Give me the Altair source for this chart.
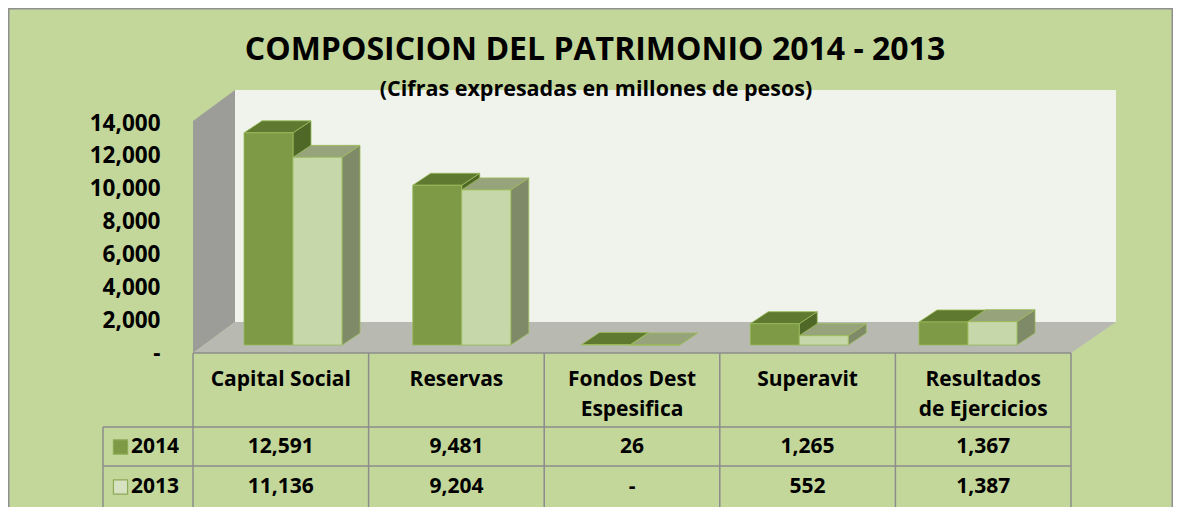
import altair as alt
import pandas as pd

# ---------------- data ----------------
categories = ["Capital Social", "Reservas", "Fondos Dest Espesifica", "Superavit", "Resultados de Ejercicios"]
header_line1 = ["Capital Social", "Reservas", "Fondos Dest", "Superavit", "Resultados"]
header_line2 = ["", "", "Espesifica", "", "de Ejercicios"]
series = ["2014", "2013"]
values_2014 = [12591, 9481, 26, 1265, 1367]
values_2013 = [11136, 9204, 0, 552, 1387]
axis_ticks = [0, 2000, 4000, 6000, 8000, 10000, 12000, 14000]
TITLE = "COMPOSICION DEL PATRIMONIO 2014 - 2013"
SUBTITLE = "(Cifras expresadas en millones de pesos)"

# ---------------- layout / style ----------------
PAGE_M = 8
CANVAS_R, CANVAS_B = 1173, 507
PLOT_L, PLOT_T, PLOT_R, PLOT_B = 193, 90, 1116, 353
W, H = PLOT_R - PLOT_L, PLOT_B - PLOT_T
COL_PX = 175.6            # table column width = one x unit
ZERO_PX = 345             # bar baseline (front plane)
PX_PER_VAL = 0.01685      # bar scale
AXIS_PX_PER_VAL = 0.01642 # value-axis scale (front edge of the wall)
BAR_W, DDX, DDY = 49, 18, 12

FONT = "Open Sans"
BG = "#C4D79B"
WALL_BACK = "#F0F3EC"
WALL_LEFT = "#9C9D98"
FLOOR = "#B8BAB2"
GRID = "#8C8C8C"
OUTLINE = "#9BBB59"
COLORS = {
    "2014": dict(front="#7E9A47", top="#5F7A30", side="#4F6727", legend="#7E9A47"),
    "2013": dict(front="#C6D7AA", top="#97A37B", side="#7E8A68", legend="#D6E2C2"),
}


def ux(px):
    return (px - PLOT_L) / COL_PX


def uy(py):
    return (ZERO_PX - py) / PX_PER_VAL


XMAX = ux(PLOT_R)
YMIN, YMAX = uy(PLOT_B), uy(PLOT_T)
xs = alt.Scale(domain=[0, XMAX], nice=False, zero=False)
ys = alt.Scale(domain=[YMIN, YMAX], nice=False, zero=False)


def bar_center_px(i):
    return 293 + 168.75 * i


# ---------------- build tables ----------------
front_rows, side_rows, top_rows = [], [], []
dx_u = DDX / COL_PX
dy_v = DDY / PX_PER_VAL
for s, (yr, vals) in enumerate(zip(series, [values_2014, values_2013])):
    for i, v in enumerate(vals):
        left = bar_center_px(i) - BAR_W + s * BAR_W
        xl, xr = ux(left), ux(left + BAR_W)
        bid = f"{yr}-{i}"
        front_rows.append(dict(series=yr, bar=bid, xl=xl, xr=xr, v=v, base=0))
        side_rows += [dict(series=yr, bar=bid, x=xr, top=v, bot=0),
                      dict(series=yr, bar=bid, x=xr + dx_u, top=v + dy_v, bot=dy_v)]
        top_rows += [dict(series=yr, bar=bid, y=v, xa=xl, xb=xr),
                     dict(series=yr, bar=bid, y=v + dy_v, xa=xl + dx_u, xb=xr + dx_u)]
df_front = pd.DataFrame(front_rows)
df_side = pd.DataFrame(side_rows)
df_top = pd.DataFrame(top_rows)


def fmt(v):
    return f"{v:,}" if v else "-"


df_table = pd.DataFrame({
    "cx": [i + 0.5 for i in range(len(categories))],
    "h1": header_line1,
    "h2": header_line2,
    "t2014": [fmt(v) for v in values_2014],
    "t2013": [fmt(v) for v in values_2013],
})
df_edges = pd.DataFrame({"e": list(range(len(categories) + 1))})
one = pd.DataFrame({"a": [0]})

df_left_wall = pd.DataFrame([
    dict(x=ux(PLOT_L), top=uy(121), bot=uy(PLOT_B)),
    dict(x=ux(235), top=uy(PLOT_T), bot=uy(322)),
])
df_floor = pd.DataFrame([
    dict(y=uy(PLOT_B), xa=ux(PLOT_L), xb=ux(1071)),
    dict(y=uy(322), xa=ux(235), xb=ux(PLOT_R)),
])

X = lambda f: alt.X(f, scale=xs, axis=None)
Y = lambda f: alt.Y(f, scale=ys, axis=None)
rel_y = lambda py: py - PLOT_T
rel_x = lambda px: px - PLOT_L

layers = []

# walls and floor
layers.append(alt.Chart(one).mark_rect(fill=WALL_BACK).encode(
    x=alt.value(rel_x(235)), x2=alt.value(W), y=alt.value(0), y2=alt.value(rel_y(322))))
layers.append(alt.Chart(df_left_wall).mark_area(orient="vertical", fill=WALL_LEFT).encode(
    x=X("x:Q"), y=Y("top:Q"), y2="bot:Q"))
layers.append(alt.Chart(df_floor).mark_area(orient="horizontal", fill=FLOOR).encode(
    y=Y("y:Q"), x=X("xa:Q"), x2="xb:Q"))

# 3-D bars
for yr in series:
    c = COLORS[yr]
    layers.append(alt.Chart(df_side[df_side.series == yr]).mark_area(
        orient="vertical", fill=c["side"], stroke=OUTLINE, strokeWidth=0.8).encode(
        x=X("x:Q"), y=Y("top:Q"), y2="bot:Q", detail="bar:N"))
    layers.append(alt.Chart(df_top[df_top.series == yr]).mark_area(
        orient="horizontal", fill=c["top"], stroke=OUTLINE, strokeWidth=0.8).encode(
        y=Y("y:Q"), x=X("xa:Q"), x2="xb:Q", detail="bar:N"))
    layers.append(alt.Chart(df_front[df_front.series == yr]).mark_rect(
        fill=c["front"], stroke=OUTLINE, strokeWidth=0.8).encode(
        x=X("xl:Q"), x2="xr:Q", y=Y("v:Q"), y2="base:Q"))

# value axis (front plane scale)
layers.append(alt.Chart(pd.DataFrame({"tick": axis_ticks})).mark_point(opacity=0).encode(
    y=alt.Y("tick:Q",
            scale=alt.Scale(domain=[0, H / AXIS_PX_PER_VAL], nice=False, zero=False),
            axis=alt.Axis(orient="left", values=axis_ticks,
                          labelExpr="datum.value == 0 ? '-' : format(datum.value, ',')",
                          domain=False, ticks=False, grid=False, labelPadding=33,
                          labelFont=FONT, labelFontWeight="bold", labelFontSize=22.5,
                          labelColor="#000000", labelFlush=False, labelOverlap=False,
                          title=None))))

# data table grid
TB_TOP, TB_R1, TB_R2, TB_BOT = PLOT_B, 427, 466, CANVAS_B + 5
LEG_L = 103
layers.append(alt.Chart(df_edges).mark_rule(color=GRID, strokeWidth=1.5).encode(
    x=X("e:Q"), y=alt.value(rel_y(TB_TOP)), y2=alt.value(rel_y(TB_BOT))))
layers.append(alt.Chart(one).mark_rule(color=GRID, strokeWidth=1.5).encode(
    x=alt.value(rel_x(LEG_L)), y=alt.value(rel_y(TB_R1)), y2=alt.value(rel_y(TB_BOT))))
for yy, x0 in [(TB_TOP, PLOT_L), (TB_R1, LEG_L), (TB_R2, LEG_L)]:
    layers.append(alt.Chart(one).mark_rule(color=GRID, strokeWidth=1.5).encode(
        x=alt.value(rel_x(x0)), x2=alt.value(rel_x(1071)), y=alt.value(rel_y(yy))))

txt = dict(font=FONT, fontWeight="bold", fontSize=21, color="#000000", baseline="middle")
layers.append(alt.Chart(df_table).mark_text(**txt).encode(
    x=X("cx:Q"), y=alt.value(rel_y(380)), text="h1:N"))
layers.append(alt.Chart(df_table).mark_text(**txt).encode(
    x=X("cx:Q"), y=alt.value(rel_y(410)), text="h2:N"))
layers.append(alt.Chart(df_table).mark_text(**txt).encode(
    x=X("cx:Q"), y=alt.value(rel_y(447)), text="t2014:N"))
layers.append(alt.Chart(df_table).mark_text(**txt).encode(
    x=X("cx:Q"), y=alt.value(rel_y(487)), text="t2013:N"))

# legend keys inside the table
for yr, yy in zip(series, [447, 487]):
    c = COLORS[yr]
    d = pd.DataFrame({"s": [yr]})
    layers.append(alt.Chart(d).mark_square(size=200, filled=True, fill=c["legend"],
                                           stroke="#8DAA55", strokeWidth=1.2, opacity=1).encode(
        x=alt.value(rel_x(120.5)), y=alt.value(rel_y(yy))))
    layers.append(alt.Chart(d).mark_text(**{**txt, "align": "left"}).encode(
        x=alt.value(rel_x(131)), y=alt.value(rel_y(yy)), text="s:N"))

# titles
layers.append(alt.Chart(pd.DataFrame({"t": [TITLE]})).mark_text(
    font=FONT, fontWeight="bold", fontSize=32, color="#000000", baseline="middle").encode(
    x=alt.value(rel_x(595)), y=alt.value(rel_y(50)), text="t:N"))
layers.append(alt.Chart(pd.DataFrame({"t": [SUBTITLE]})).mark_text(
    font=FONT, fontWeight="bold", fontSize=21.5, color="#000000", baseline="middle").encode(
    x=alt.value(rel_x(596)), y=alt.value(rel_y(90)), text="t:N"))

# outer border
layers.append(alt.Chart(one).mark_rect(fillOpacity=0, stroke="#8F8F8F", strokeWidth=1.5).encode(
    x=alt.value(rel_x(PAGE_M) + 0.75), x2=alt.value(rel_x(CANVAS_R) - 0.75),
    y=alt.value(rel_y(PAGE_M) + 0.75), y2=alt.value(rel_y(CANVAS_B) + 10)))

chart = alt.layer(*layers).resolve_scale(y="independent").properties(
    width=W, height=H,
    autosize=alt.AutoSizeParams(type="none"),
    padding={"left": PLOT_L - PAGE_M, "top": PLOT_T - PAGE_M,
             "right": CANVAS_R - PLOT_R, "bottom": CANVAS_B - PLOT_B},
    background=BG,
).configure_view(strokeWidth=0)

chart.save("out.html", embed_options={"renderer": "svg", "actions": False})
